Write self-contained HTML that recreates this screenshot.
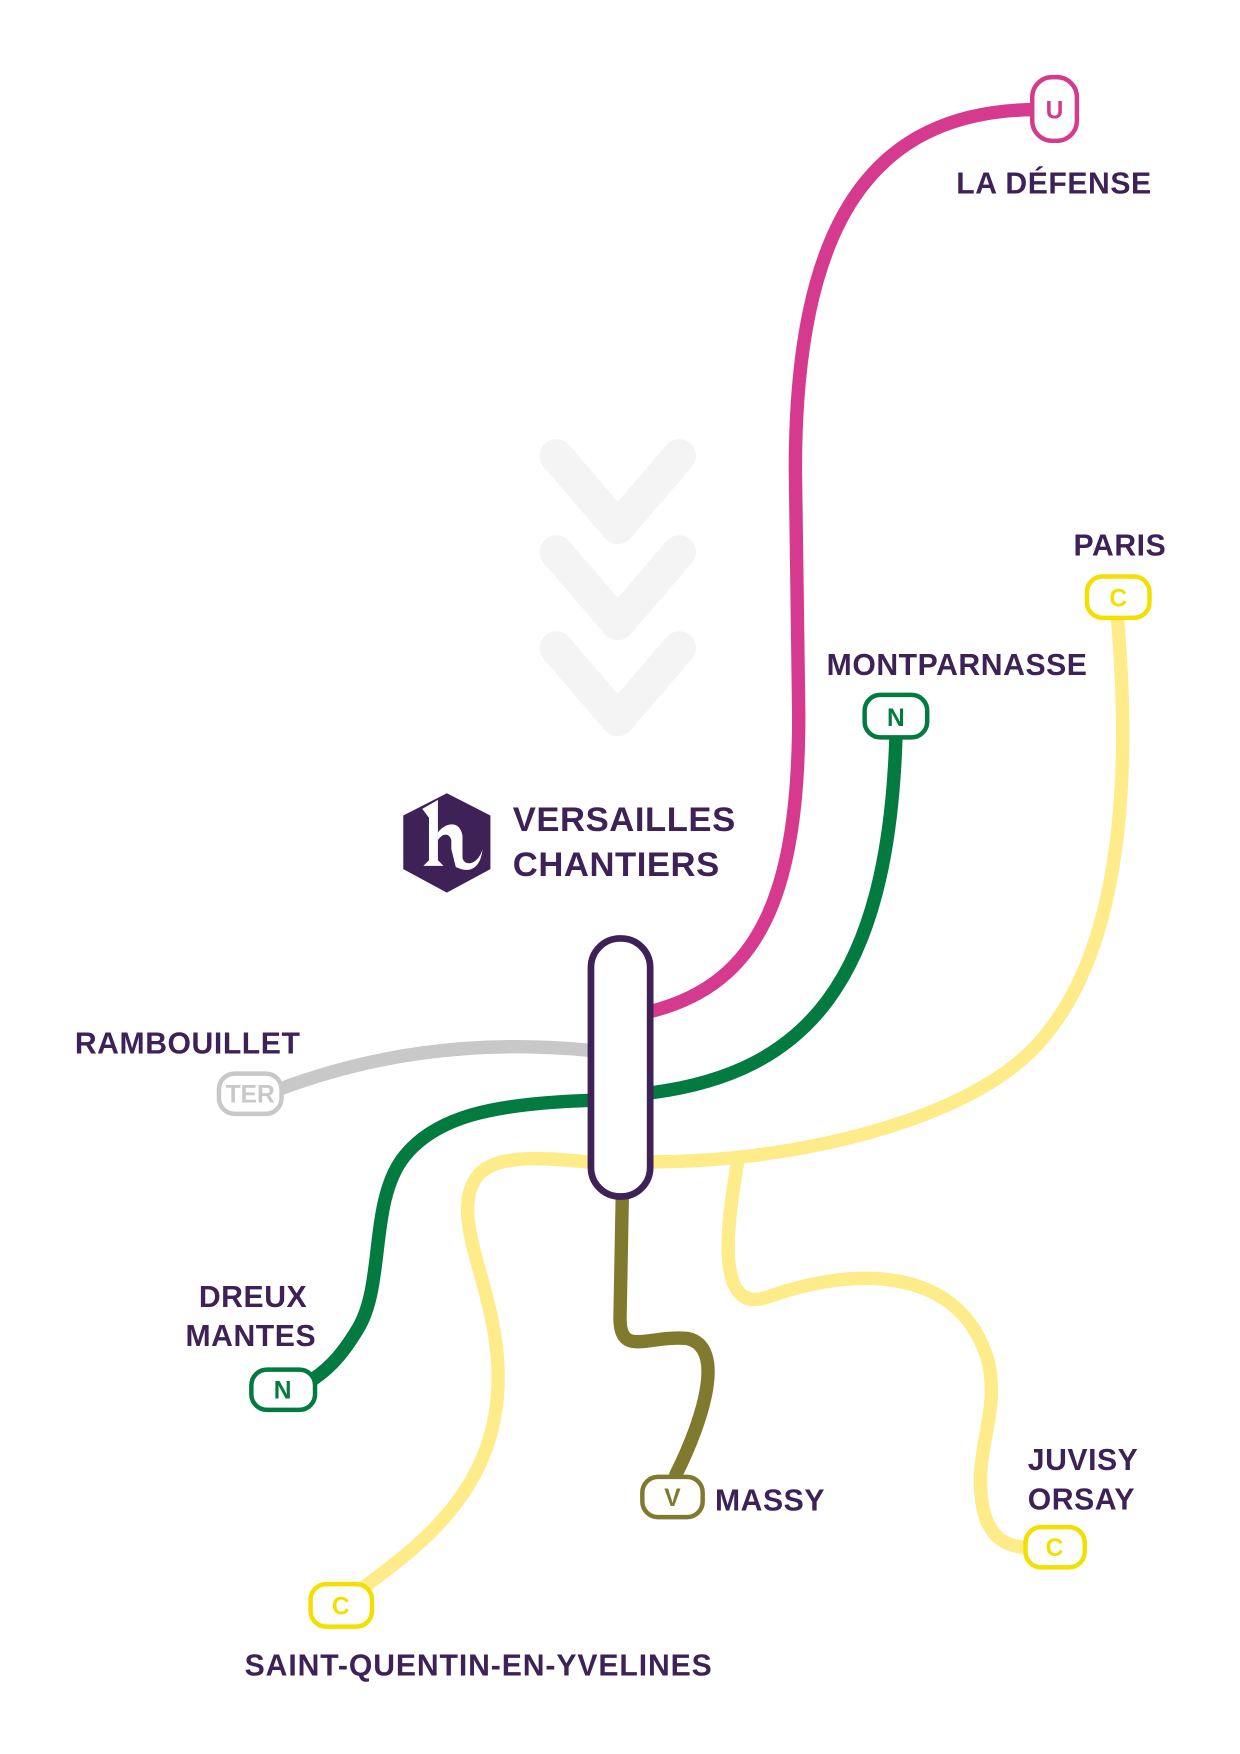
<!DOCTYPE html>
<html><head><meta charset="utf-8"><style>
html,body{margin:0;padding:0;background:#fff;}
svg{display:block;}
text{font-family:"Liberation Sans",sans-serif;font-weight:bold;}
</style></head><body>
<svg width="1240" height="1754" viewBox="0 0 1110 1570" xmlns="http://www.w3.org/2000/svg">
<rect width="1110" height="1570" fill="#fff"/>
<g fill="none" stroke="#f4f4f4" stroke-width="30" stroke-linecap="round" stroke-linejoin="round">
<polyline points="498,408 553,472 608,408"/>
<polyline points="498,494 553,558 608,494"/>
<polyline points="498,580 553,644 608,580"/>
</g>
<g fill="none" stroke-linecap="round" stroke-width="12">
<path d="M584,905 C680,880 715,800 715,640 L712,420 C712,200 780,100 925,98" stroke="#d63a8e"/>
<path d="M526,940 C420,930 330,945 250,975" stroke="#c8c8c8"/>
<path d="M584,978 C720,960 795,880 802,660" stroke="#027a40"/>
<path d="M526,985 C440,988 390,1000 362,1035 C330,1075 345,1150 320,1190 C305,1215 292,1228 272,1240" stroke="#027a40"/>
<path d="M584,1040 C700,1040 830,1010 900,960 C1000,890 1015,720 1000,550" stroke="#feeb8a"/>
<path d="M660,1042 C650,1100 640,1180 690,1160 C760,1135 860,1130 885,1220 C895,1270 870,1300 880,1350 C885,1375 900,1385 920,1385" stroke="#feeb8a"/>
<path d="M526,1040 C490,1037 445,1032 428,1052 C405,1080 430,1130 440,1180 C470,1320 380,1380 320,1425" stroke="#feeb8a"/>
<path d="M557,1073 L555,1180 C555,1215 580,1195 615,1198 C650,1205 630,1270 605,1320" stroke="#7f7a2e"/>
</g>
<rect x="529" y="840" width="53" height="231" rx="26" fill="#fff" stroke="#3d2157" stroke-width="6"/>
<g stroke-width="4">
<rect x="924" y="69" width="40" height="57" rx="18" fill="#fff" stroke="#d63a8e"/>
<rect x="774" y="622" width="56" height="38" rx="14" fill="#fff" stroke="#027a40"/>
<rect x="973" y="516" width="56" height="37" rx="14" fill="#fff" stroke="#f3df00"/>
<rect x="196" y="961" width="56" height="36" rx="14" fill="#fff" stroke="#c8c8c8"/>
<rect x="225" y="1226" width="57" height="36" rx="14" fill="#fff" stroke="#027a40"/>
<rect x="575" y="1322" width="54" height="36" rx="14" fill="#fff" stroke="#7f7a2e"/>
<rect x="918" y="1367" width="53" height="36" rx="14" fill="#fff" stroke="#f3df00"/>
<rect x="278" y="1418" width="55" height="38" rx="14" fill="#fff" stroke="#f3df00"/>
</g>
<g font-size="22" text-anchor="middle">
<text x="944" y="106" fill="#d63a8e">U</text>
<text x="802" y="650" fill="#027a40">N</text>
<text x="1001" y="543" fill="#f3df00">C</text>
<text x="224" y="987" fill="#c8c8c8">TER</text>
<text x="253" y="1252" fill="#027a40">N</text>
<text x="602" y="1348" fill="#7f7a2e">V</text>
<text x="944" y="1393" fill="#f3df00">C</text>
<text x="305" y="1445" fill="#f3df00">C</text>
</g>
<g font-size="27" fill="#3d2157" letter-spacing="0.5">
<text x="856" y="173">LA DÉFENSE</text>
<text x="961" y="497">PARIS</text>
<text x="740" y="604">MONTPARNASSE</text>
<text x="67" y="943">RAMBOUILLET</text>
<text x="178" y="1170">DREUX</text>
<text x="166" y="1205">MANTES</text>
<text x="640" y="1352">MASSY</text>
<text x="920" y="1316">JUVISY</text>
<text x="920" y="1351">ORSAY</text>
<text x="219" y="1500" letter-spacing="0.8">SAINT-QUENTIN-EN-YVELINES</text>
<text x="459" y="744" font-size="31">VERSAILLES</text>
<text x="459" y="784" font-size="31">CHANTIERS</text>
</g>
<polygon points="400,710 439,730 439,778 400,799 361,778 361,730" fill="#3d2157"/>
<path d="M378,724 L392,716 L392,770 L397,775 L379,775 L384,770 L384,732 Z" fill="#fff"/>
<path d="M392,745 C400,735 412,735 414,748 L414,768 C416,776 428,774 432,760 C430,778 420,782 408,776 L404,760 L404,752 C402,745 396,746 392,752 Z" fill="#fff"/>
</svg>
</body></html>
